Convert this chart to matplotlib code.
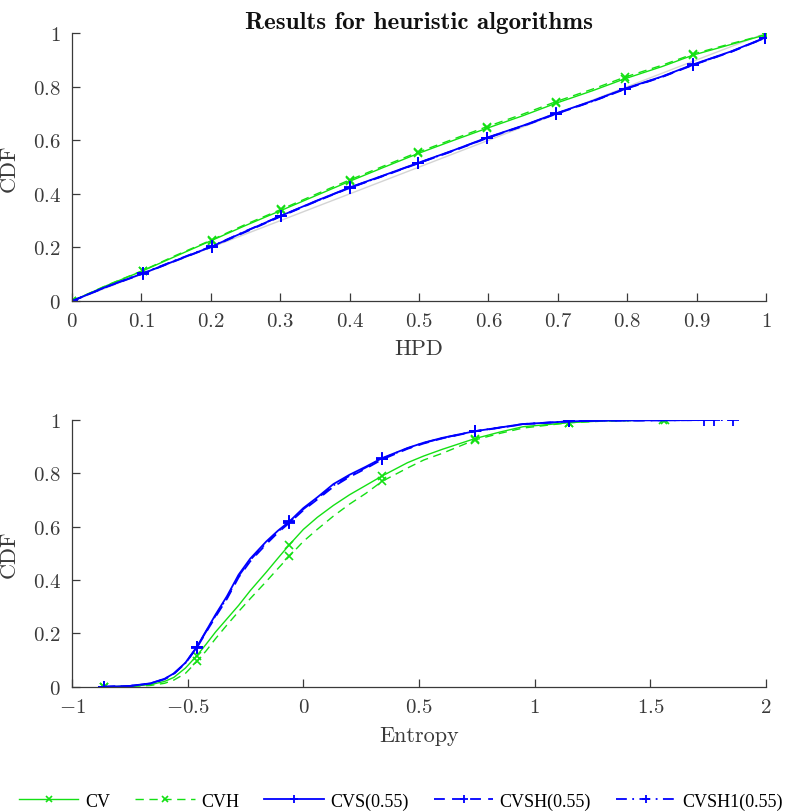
import numpy as np
import matplotlib
matplotlib.use("Agg")
import matplotlib.pyplot as plt
from matplotlib.ticker import FuncFormatter

plt.rcParams["font.family"] = "cmr10"
plt.rcParams["mathtext.fontset"] = "cm"
plt.rcParams["axes.formatter.use_mathtext"] = True

# HPD CDF (top panel)
hpd_x = [0, 0.05, 0.102, 0.15, 0.201, 0.25, 0.301, 0.35, 0.40, 0.45, 0.499,
         0.55, 0.598, 0.65, 0.697, 0.75, 0.797, 0.85, 0.895, 0.95, 0.9986]
cv_hpd = [0, 0.058, 0.113, 0.168, 0.226, 0.282, 0.338, 0.392, 0.447, 0.500, 0.551,
          0.600, 0.645, 0.692, 0.738, 0.785, 0.830, 0.875, 0.918, 0.958, 0.993]
cvh_hpd = [0, 0.059, 0.114, 0.171, 0.228, 0.286, 0.342, 0.397, 0.452, 0.505, 0.556,
           0.605, 0.651, 0.698, 0.744, 0.791, 0.836, 0.880, 0.922, 0.961, 0.994]
cvs_hpd = [0, 0.054, 0.103, 0.152, 0.203, 0.260, 0.318, 0.372, 0.424, 0.470, 0.516,
           0.563, 0.610, 0.655, 0.700, 0.747, 0.793, 0.838, 0.883, 0.932, 0.983]
cvsh_hpd = [0, 0.053, 0.102, 0.151, 0.202, 0.258, 0.316, 0.370, 0.422, 0.468, 0.514,
            0.561, 0.608, 0.653, 0.698, 0.745, 0.791, 0.836, 0.881, 0.930, 0.982]
cvsh1_hpd = [0, 0.054, 0.104, 0.153, 0.204, 0.261, 0.318, 0.371, 0.423, 0.469, 0.515,
             0.562, 0.609, 0.654, 0.699, 0.746, 0.792, 0.837, 0.882, 0.931, 0.982]
ref_x = [0, 1]
ref_y = [0, 1]

# Entropy CDF (bottom panel)
ent_grid = [-0.86, -0.75, -0.66, -0.60, -0.56, -0.51, -0.46, -0.42, -0.38, -0.33,
            -0.28, -0.23, -0.16, -0.11, -0.06, 0.00, 0.06, 0.13, 0.20, 0.27,
            0.34, 0.45, 0.52, 0.60, 0.74, 0.85, 0.95, 1.15, 1.30]
cv_ent = [0, 0.002, 0.008, 0.020, 0.035, 0.070, 0.117, 0.160, 0.205, 0.255,
          0.305, 0.360, 0.430, 0.482, 0.533, 0.590, 0.635, 0.680, 0.720, 0.755,
          0.790, 0.840, 0.865, 0.890, 0.930, 0.955, 0.975, 0.990, 0.997, 1.0]
cvh_ent = [0, 0.001, 0.005, 0.013, 0.025, 0.050, 0.095, 0.135, 0.180, 0.232,
           0.282, 0.330, 0.395, 0.443, 0.490, 0.545, 0.590, 0.640, 0.685, 0.725,
           0.770, 0.820, 0.850, 0.875, 0.925, 0.950, 0.970, 0.990, 0.996, 1.0]
cvs_ent = [0, 0.003, 0.013, 0.030, 0.050, 0.090, 0.150, 0.210, 0.270, 0.340,
           0.420, 0.480, 0.545, 0.585, 0.620, 0.670, 0.710, 0.760, 0.795, 0.825,
           0.857, 0.895, 0.915, 0.933, 0.958, 0.972, 0.985, 0.995, 0.998, 0.999, 1.0]
cvsh_ent = [0, 0.003, 0.012, 0.028, 0.048, 0.088, 0.147, 0.205, 0.262, 0.330,
            0.410, 0.470, 0.535, 0.578, 0.615, 0.662, 0.702, 0.750, 0.787, 0.818,
            0.852, 0.892, 0.912, 0.931, 0.957, 0.971, 0.984, 0.995, 0.998, 0.999, 1.0]
cvsh1_ent = [0, 0.003, 0.013, 0.029, 0.049, 0.089, 0.149, 0.208, 0.266, 0.335,
             0.415, 0.475, 0.540, 0.582, 0.618, 0.666, 0.706, 0.755, 0.791, 0.822,
             0.855, 0.894, 0.914, 0.932, 0.958, 0.972, 0.985, 0.995, 0.998, 0.999, 1.0]
cv_ent_x = ent_grid + [1.556]
cvh_ent_x = ent_grid + [1.565]
cvs_ent_x = ent_grid + [1.56, 1.732]
cvsh_ent_x = ent_grid + [1.56, 1.773]
cvsh1_ent_x = ent_grid + [1.56, 1.856]

labels = ["CV", "CVH", "CVS(0.55)", "CVSH(0.55)", "CVSH1(0.55)"]

green = "#14e014"
blue = "#0000ff"
axcol = "#3a3a3a"

styles = [
    dict(color=green, lw=1.0, ls="-", marker="x", ms=6, mew=1.2),
    dict(color=green, lw=1.0, ls=(0, (6, 4)), marker="x", ms=6, mew=1.2),
    dict(color=blue, lw=1.3, ls="-", marker="+", ms=9, mew=1.3),
    dict(color=blue, lw=1.3, ls=(0, (6, 4)), marker="+", ms=9, mew=1.3),
    dict(color=blue, lw=1.3, ls=(0, (6, 3, 1, 3)), marker="+", ms=9, mew=1.3),
]

fig = plt.figure(figsize=(7.89, 8.12), dpi=100)
ax1 = fig.add_axes([0.0913, 0.628, 0.8796, 0.330])
ax2 = fig.add_axes([0.0913, 0.153, 0.8796, 0.3285])

ax1.plot(ref_x, ref_y, color="#d4d4d4", lw=1.0, zorder=1)
top_series = [cv_hpd, cvh_hpd, cvs_hpd, cvsh_hpd, cvsh1_hpd]
handles = []
for ys, st in zip(top_series, styles):
    h, = ax1.plot(hpd_x, ys, markevery=list(range(0, len(hpd_x), 2)), zorder=2, **st)
    handles.append(h)

bottom_series = [(cv_ent_x, cv_ent), (cvh_ent_x, cvh_ent), (cvs_ent_x, cvs_ent),
                 (cvsh_ent_x, cvsh_ent), (cvsh1_ent_x, cvsh1_ent)]
for (xs, ys), st in zip(bottom_series, styles):
    ax2.plot(xs, ys, markevery=[0, 6, 14, 20, 24, 27, len(xs) - 1], **st)

fmt = FuncFormatter(lambda v, p: "$%g$" % round(v, 2))

for ax in (ax1, ax2):
    for s in ("top", "right"):
        ax.spines[s].set_visible(False)
    for s in ("left", "bottom"):
        ax.spines[s].set_color(axcol)
        ax.spines[s].set_linewidth(0.9)
    ax.tick_params(direction="in", length=6, width=0.9, colors=axcol,
                   labelsize=15, pad=8)
    ax.set_ylim(0, 1)
    ax.set_yticks(np.arange(0, 1.01, 0.2))
    ax.xaxis.set_major_formatter(fmt)
    ax.yaxis.set_major_formatter(fmt)
    ax.set_ylabel("CDF", fontsize=16, color=axcol)
    ax.yaxis.set_label_coords(-0.077, 0.5)

ax1.set_xlim(0, 1)
ax1.set_xticks(np.arange(0, 1.01, 0.1))
ax1.set_xlabel("HPD", fontsize=16, color=axcol)
ax1.xaxis.set_label_coords(0.5, -0.14)
ax1.set_title("Results for heuristic algorithms", family="cmb10", fontsize=18,
              color="#111111", pad=3)

ax2.set_xlim(-1, 2)
ax2.set_xticks(np.arange(-1, 2.01, 0.5))
ax2.set_xlabel("Entropy", fontsize=16, color=axcol)
ax2.xaxis.set_label_coords(0.5, -0.145)

fig.legend(handles, labels, loc="center", bbox_to_anchor=(0.508, 1 - 802 / 812),
           ncol=5, frameon=False, prop={"family": "Liberation Serif", "size": 13},
           handlelength=3.3, handletextpad=0.35, columnspacing=1.4, markerscale=0.7)

fig.savefig("out.png", dpi=100)
